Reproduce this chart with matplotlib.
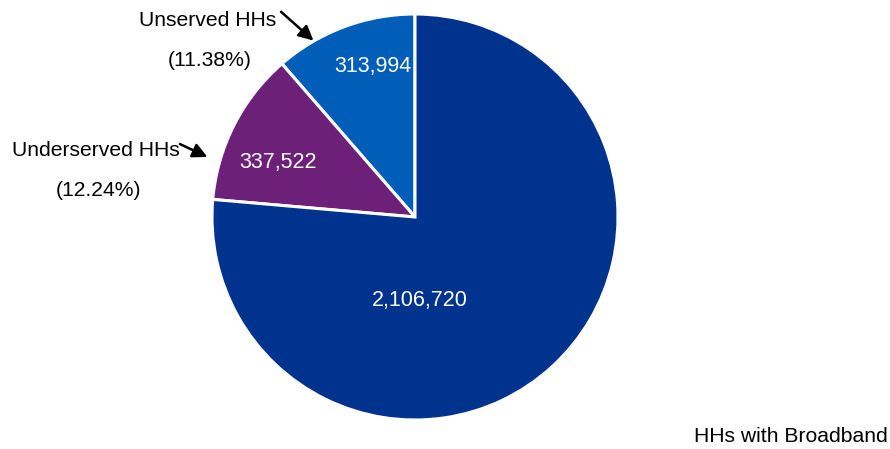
import matplotlib.pyplot as plt

plt.rcParams['font.family'] = ['Liberation Sans', 'DejaVu Sans']

categories = ['Unserved HHs', 'Underserved HHs', 'HHs with Broadband']
households = [313994, 337522, 2106720]
shares = ['(11.38%)', '(12.24%)', '']
colors = ['#005EB8', '#6D2077', '#00338D']

fig = plt.figure(figsize=(8.9, 4.49), dpi=100)
# pie of radius 203 px centred at (415, 217) from top-left
ax = fig.add_axes([(415 - 203) / 890, (232 - 203) / 449, 406 / 890, 406 / 449])
ax.pie(households, colors=colors, startangle=90, counterclock=True,
       wedgeprops=dict(edgecolor='white', linewidth=2.2), radius=1)
ax.set_xlim(-1, 1)
ax.set_ylim(-1, 1)
ax.set_aspect('equal')
ax.axis('off')

# value labels inside the slices
value_pos = [(-0.21, 0.74), (-0.675, 0.27), (0.025, -0.41)]
for v, (x, y) in zip(households, value_pos):
    ax.text(x, y, f'{v:,}', color='white', fontsize=15.5, ha='center', va='center')

fs = 15.2
# outer labels with arrows
ax.annotate('', xy=(-0.49, 0.86), xytext=(-0.67, 1.02),
            arrowprops=dict(arrowstyle='-|>', color='black', lw=1.8, mutation_scale=22),
            annotation_clip=False)
ax.text(-1.02, 0.97, categories[0], fontsize=fs, ha='center', va='center', clip_on=False)
ax.text(-1.01, 0.77, shares[0], fontsize=fs, ha='center', va='center', clip_on=False)

ax.annotate('', xy=(-1.01, 0.29), xytext=(-1.17, 0.365),
            arrowprops=dict(arrowstyle='-|>', color='black', lw=1.8, mutation_scale=22),
            annotation_clip=False)
ax.text(-1.57, 0.33, categories[1], fontsize=fs, ha='center', va='center', clip_on=False)
ax.text(-1.56, 0.13, shares[1], fontsize=fs, ha='center', va='center', clip_on=False)

ax.text(1.85, -1.08, categories[2], fontsize=fs, ha='center', va='center', clip_on=False)

fig.savefig('out.png', dpi=100)
